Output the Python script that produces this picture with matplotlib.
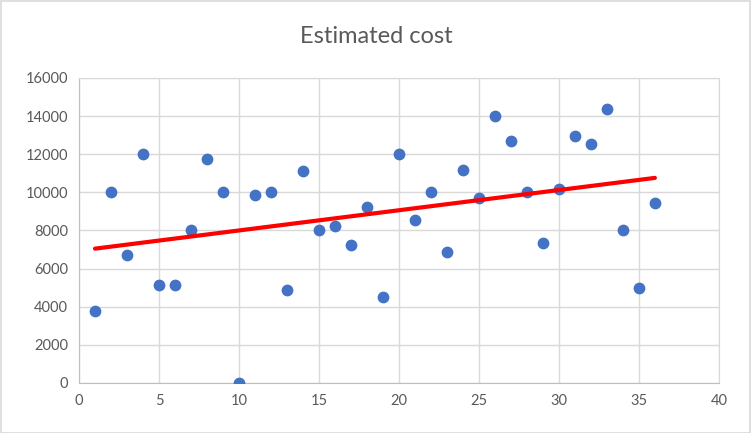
import numpy as np
import matplotlib.pyplot as plt
from matplotlib.patches import Rectangle

# Data
x = list(range(1, 37))
cost = [3800, 10000, 6700, 12000, 5150, 5150, 8000, 11750, 10000, 0,
        9850, 10000, 4900, 11100, 8000, 8250, 7250, 9250, 4500, 12000,
        8550, 10000, 6850, 11150, 9700, 14000, 12700, 10000, 7350, 10200,
        12950, 12550, 14350, 8000, 5000, 9450]

x_ticks = [0, 5, 10, 15, 20, 25, 30, 35, 40]
y_ticks = [0, 2000, 4000, 6000, 8000, 10000, 12000, 14000, 16000]

# Linear trendline
slope, intercept = np.polyfit(x, cost, 1)
trend_x = np.array([min(x), max(x)])
trend_y = slope * trend_x + intercept

plt.rcParams['font.family'] = ['Lato', 'DejaVu Sans']

fig = plt.figure(figsize=(7.52, 4.33), dpi=100)
ax = fig.add_axes([0.105, 0.1155, 0.851, 0.7045])

ax.scatter(x, cost, s=72, color='#4472C4', zorder=3, linewidths=0)
ax.plot(trend_x, trend_y, color='#FF0000', linewidth=3, solid_capstyle='round', zorder=4)

ax.set_xlim(0, 40)
ax.set_ylim(0, 16000)
ax.set_xticks(x_ticks)
ax.set_yticks(y_ticks)
ax.grid(True, color='#D9D9D9', linewidth=1)
ax.set_axisbelow(True)
ax.tick_params(length=0, labelsize=10.5, colors='#595959', pad=8)
for s in ax.spines.values():
    s.set_color('#D9D9D9')
ax.spines['left'].set_color('#BFBFBF')
ax.spines['bottom'].set_color('#BFBFBF')

fig.text(0.5, 0.915, 'Estimated cost', ha='center', va='center',
         fontsize=17, color='#595959')

# Chart border
fig.patches.append(Rectangle((0.001, 0.001), 0.997, 0.997, transform=fig.transFigure,
                             fill=False, edgecolor='#D9D9D9', linewidth=1.2))

plt.savefig('out.png', dpi=100)
